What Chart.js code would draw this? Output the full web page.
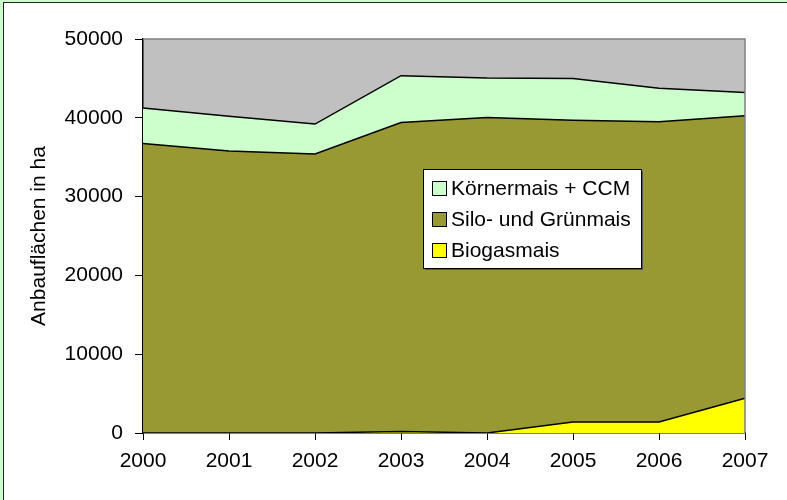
<!DOCTYPE html>
<html>
<head>
<meta charset="utf-8">
<script src="https://cdn.jsdelivr.net/npm/chart.js"></script>
<style>
  body{margin:0;background:#ccffcc;}
  #frame{position:absolute;left:3px;top:2px;width:784px;height:498px;border-left:1px solid #222;border-top:1px solid #222;background:#fff;}
  canvas{display:block;}
</style>
</head>
<body>
<div id="frame"><canvas id="chart" width="783" height="497"></canvas></div>
<script>
var years=['2000','2001','2002','2003','2004','2005','2006','2007']
var biogas=[0,0,0,200,0,1400,1400,4400]
var silo=[36750,35800,35400,39200,40050,38300,38100,35850]
var koerner=[4500,4400,3800,5950,5000,5300,4250,2950]
var yTicks=[0,10000,20000,30000,40000,50000]

var fontName="'Liberation Sans', Arial, sans-serif"

// grey plot area like excel
var plotBg={
    id:'plotBg',
    beforeDraw:function(chart){
        var a=chart.chartArea, ctx=chart.ctx
        ctx.save()
        ctx.fillStyle='#c0c0c0'
        ctx.fillRect(a.left,a.top,a.right-a.left,a.bottom-a.top)
        ctx.restore()
    },
    afterDatasetsDraw:function(chart){
        var a=chart.chartArea, ctx=chart.ctx
        ctx.save()
        ctx.strokeStyle='#808080'
        ctx.lineWidth=1.5
        ctx.beginPath()
        ctx.moveTo(a.left,a.top)
        ctx.lineTo(a.right,a.top)
        ctx.lineTo(a.right,a.bottom)
        ctx.stroke()
        ctx.restore()
    }
}

// legend box inside the plot
var boxLegend={
    id:'boxLegend',
    afterDraw:function(chart){
        var ctx=chart.ctx
        var x=419,y=166,w=218,h=99
        ctx.save()
        ctx.fillStyle='#555'
        ctx.fillRect(x+2,y+2,w,h)
        ctx.fillStyle='#fff'
        ctx.fillRect(x,y,w,h)
        ctx.strokeStyle='#000'
        ctx.lineWidth=1
        ctx.strokeRect(x+0.5,y+0.5,w,h)
        var ds=chart.data.datasets.slice().reverse()
        ctx.font='21px '+fontName
        ctx.textBaseline='middle'
        ds.forEach(function(d,i){
            var cy=y+19+i*31
            ctx.fillStyle=d.backgroundColor
            ctx.fillRect(x+9,cy-7,14,14)
            ctx.strokeStyle='#000'
            ctx.strokeRect(x+9.5,cy-6.5,14,14)
            ctx.fillStyle='#000'
            ctx.fillText(d.label,x+28,cy+1)
        })
        ctx.restore()
    }
}

var mychart=document.getElementById('chart').getContext('2d')
var chart=new Chart(mychart,{
    type:'line',
    data:{
        labels:years,
        datasets:[
            {label:'Biogasmais',data:biogas,backgroundColor:'#ffff00',borderColor:'#000',borderWidth:1.5,fill:'origin',pointRadius:0,tension:0},
            {label:'Silo- und Grünmais',data:silo,backgroundColor:'#999933',borderColor:'#000',borderWidth:1.5,fill:'-1',pointRadius:0,tension:0},
            {label:'Körnermais + CCM',data:koerner,backgroundColor:'#ccffcc',borderColor:'#000',borderWidth:1.5,fill:'-1',pointRadius:0,tension:0}
        ]
    },
    options:{
        responsive:false,
        animation:false,
        layout:{padding:{top:36,right:42,bottom:0,left:0}},
        plugins:{legend:{display:false},tooltip:{enabled:false}},
        scales:{
            x:{
                offset:false,
                grid:{drawOnChartArea:false,drawTicks:true,tickLength:7,color:'#000'},
                border:{color:'#000',width:1.5},
                ticks:{color:'#000',font:{family:fontName,size:21},padding:9,maxRotation:0},
                afterFit:function(s){s.height=67}
            },
            y:{
                stacked:true,
                min:0,max:50000,
                afterBuildTicks:function(s){s.ticks=yTicks.map(function(v){return {value:v}})},
                grid:{drawOnChartArea:false,drawTicks:true,tickLength:8,color:'#000'},
                border:{color:'#000',width:1.5},
                ticks:{color:'#000',font:{family:fontName,size:21},padding:12,callback:function(v){return String(v)}},
                title:{display:true,text:'Anbauflächen in ha',color:'#000',font:{family:fontName,size:21},padding:{top:23,bottom:0}},
                afterFit:function(s){s.width=139}
            }
        }
    },
    plugins:[plotBg,boxLegend]
})
</script>
</body>
</html>
